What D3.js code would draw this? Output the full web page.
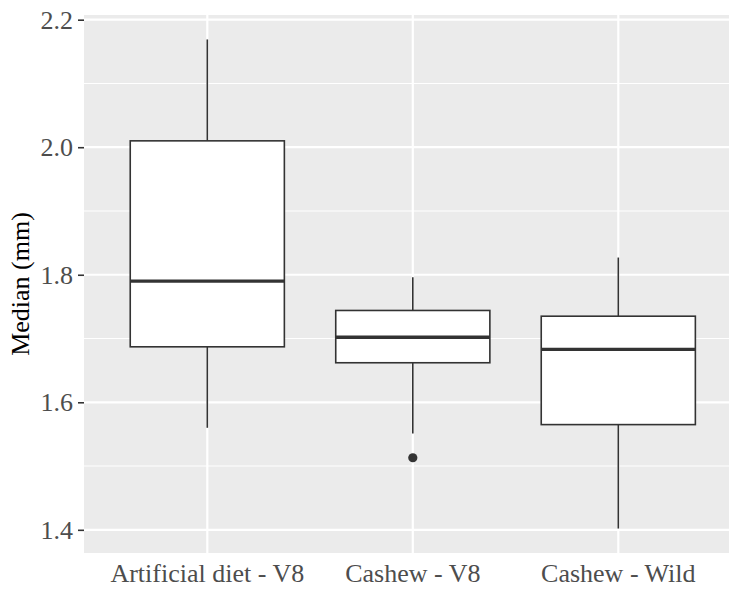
<!DOCTYPE html>
<html>
<head>
<meta charset="utf-8">
<script src="https://cdn.jsdelivr.net/npm/d3@7"></script>
<style>
  html, body { margin: 0; padding: 0; background: #ffffff; }
  svg { display: block; }
</style>
</head>
<body>
<svg id="chart" width="729" height="590"></svg>
<script>
// ---- data ----
const categories = ["Artificial diet - V8", "Cashew - V8", "Cashew - Wild"];
const whiskerLow  = [1.560, 1.551, 1.402];
const q1          = [1.687, 1.662, 1.565];
const medians     = [1.790, 1.702, 1.683];
const q3          = [2.010, 1.744, 1.735];
const whiskerHigh = [2.169, 1.796, 1.827];
const outliers    = [[], [1.513], []];
const yTicks      = [1.4, 1.6, 1.8, 2.0, 2.2];
const yMinorTicks = [1.5, 1.7, 1.9, 2.1];
const yTitle = "Median (mm)";

// ---- layout ----
const W = 729, H = 590;
const panel = { left: 84, top: 15, right: 741.6, bottom: 553 };
const fontFamily = "'Liberation Serif', 'Times New Roman', serif";
const fontSize = 26;

const svg = d3.select("#chart");

// y scale with ggplot-style 5% expansion
const allVals = whiskerLow.concat(whiskerHigh, outliers.flat());
const lo = d3.min(allVals), hi = d3.max(allVals), pad = (hi - lo) * 0.05;
const y = d3.scaleLinear().domain([lo - pad, hi + pad]).range([panel.bottom, panel.top]);

// x: discrete with 0.6 expansion
const x = d3.scaleLinear().domain([0.4, categories.length + 0.6]).range([panel.left, panel.right]);
const xPos = i => x(i + 1);
const boxHalf = (x(1.75) - x(1)) / 2;

// panel background
svg.append("rect")
  .attr("x", panel.left).attr("y", panel.top)
  .attr("width", panel.right - panel.left).attr("height", panel.bottom - panel.top)
  .attr("fill", "#EBEBEB");

const grid = svg.append("g");
grid.selectAll("line.minor").data(yMinorTicks).join("line")
  .attr("x1", panel.left).attr("x2", panel.right)
  .attr("y1", d => y(d)).attr("y2", d => y(d))
  .attr("stroke", "#ffffff").attr("stroke-width", 1.1);
grid.selectAll("line.major").data(yTicks).join("line")
  .attr("x1", panel.left).attr("x2", panel.right)
  .attr("y1", d => y(d)).attr("y2", d => y(d))
  .attr("stroke", "#ffffff").attr("stroke-width", 2.2);
grid.selectAll("line.vmajor").data(categories).join("line")
  .attr("x1", (d, i) => xPos(i)).attr("x2", (d, i) => xPos(i))
  .attr("y1", panel.top).attr("y2", panel.bottom)
  .attr("stroke", "#ffffff").attr("stroke-width", 2.2);

// boxes
const boxes = svg.append("g");
categories.forEach((c, i) => {
  const cx = xPos(i);
  const g = boxes.append("g");
  g.append("line").attr("x1", cx).attr("x2", cx)
    .attr("y1", y(q3[i])).attr("y2", y(whiskerHigh[i]))
    .attr("stroke", "#333333").attr("stroke-width", 1.6);
  g.append("line").attr("x1", cx).attr("x2", cx)
    .attr("y1", y(q1[i])).attr("y2", y(whiskerLow[i]))
    .attr("stroke", "#333333").attr("stroke-width", 1.6);
  g.append("rect")
    .attr("x", cx - boxHalf).attr("y", y(q3[i]))
    .attr("width", boxHalf * 2).attr("height", y(q1[i]) - y(q3[i]))
    .attr("fill", "#ffffff").attr("stroke", "#333333").attr("stroke-width", 1.6);
  g.append("line").attr("x1", cx - boxHalf).attr("x2", cx + boxHalf)
    .attr("y1", y(medians[i])).attr("y2", y(medians[i]))
    .attr("stroke", "#333333").attr("stroke-width", 3.4);
  g.selectAll("circle").data(outliers[i]).join("circle")
    .attr("cx", cx).attr("cy", d => y(d)).attr("r", 4.6)
    .attr("fill", "#333333");
});

// y axis
const yAxis = d3.axisLeft(y).tickValues(yTicks).tickFormat(d3.format(".1f")).tickSize(6).tickPadding(5);
const ya = svg.append("g").attr("transform", `translate(${panel.left},0)`).call(yAxis);
ya.select(".domain").remove();
ya.selectAll(".tick line").attr("stroke", "#333333").attr("stroke-width", 1.6);
ya.selectAll(".tick text").attr("fill", "#4D4D4D")
  .style("font-family", fontFamily).style("font-size", fontSize + "px");

// x axis labels (no ticks)
const xa = svg.append("g");
xa.selectAll("text").data(categories).join("text")
  .attr("x", (d, i) => xPos(i)).attr("y", 582)
  .attr("text-anchor", "middle").attr("fill", "#4D4D4D")
  .style("font-family", fontFamily).style("font-size", fontSize + "px")
  .text(d => d);

// y title
svg.append("text")
  .attr("transform", `translate(29,${(panel.top + panel.bottom) / 2}) rotate(-90)`)
  .attr("text-anchor", "middle").attr("fill", "#000000")
  .style("font-family", fontFamily).style("font-size", fontSize + "px")
  .text(yTitle);
</script>
</body>
</html>
